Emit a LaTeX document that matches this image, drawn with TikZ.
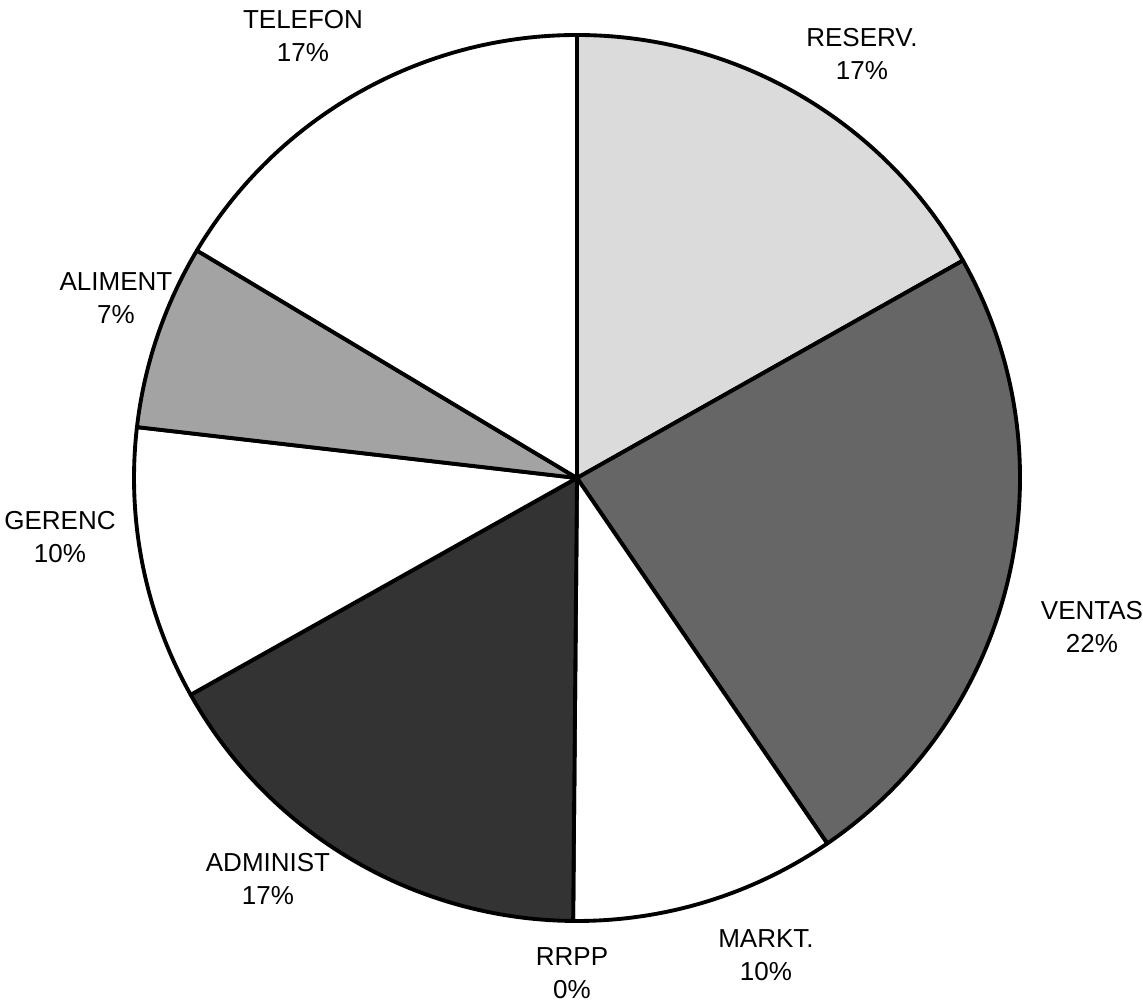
\documentclass[tikz,border=0pt]{standalone}
\usepackage{fontspec}
\setmainfont{Liberation Sans}
\usetikzlibrary{positioning}

\tikzset{
  slice/.style={draw=black, line width=2.2pt, line join=round},
  pct/.style={align=center, font=\fontsize{14.8}{18.8}\selectfont, inner sep=0pt}
}

\begin{document}
\begin{tikzpicture}[x=0.02cm, y=0.02cm]
  \useasboundingbox (0,0) rectangle (1143,1005);
  \coordinate (c) at (577,527);

  % Slices (clockwise from the top)
  \draw[slice, fill=black!14] (c) -- ++(90:443) arc[start angle=90, end angle=29.4, radius=443] -- cycle;
  \draw[slice, fill=black!60] (c) -- ++(29.4:443) arc[start angle=29.4, end angle=-55.6, radius=443] -- cycle;
  \draw[slice, fill=white] (c) -- ++(-55.6:443) arc[start angle=-55.6, end angle=-90.5, radius=443] -- cycle;
  \draw[slice, fill=black!80] (c) -- ++(-90.5:443) arc[start angle=-90.5, end angle=-150.7, radius=443] -- cycle;
  \draw[slice, fill=white] (c) -- ++(-150.7:443) arc[start angle=-150.7, end angle=-186.6, radius=443] -- cycle;
  \draw[slice, fill=black!36] (c) -- ++(173.4:443) arc[start angle=173.4, end angle=149.1, radius=443] -- cycle;
  \draw[slice, fill=white] (c) -- ++(149.1:443) arc[start angle=149.1, end angle=90, radius=443] -- cycle;

  % Labels
  \node[pct] (telefon) at (303,969) {TELEFON\\17\%};
  \node[pct] (reserv) at (862,951) {RESERV.\\17\%};
  \node[pct] (aliment) at (116,707) {ALIMENT\\7\%};
  \node[pct] (gerenc) at (60,468) {GERENC\\10\%};
  \node[pct] (ventas) at (1092,378) {VENTAS\\22\%};
  \node[pct] (administ) at (268,126) {ADMINIST\\17\%};
  \node[pct] (markt) at (766,50) {MARKT.\\10\%};
  \node[pct] (rrpp) at (572,32) {RRPP\\0\%};
\end{tikzpicture}
\end{document}
